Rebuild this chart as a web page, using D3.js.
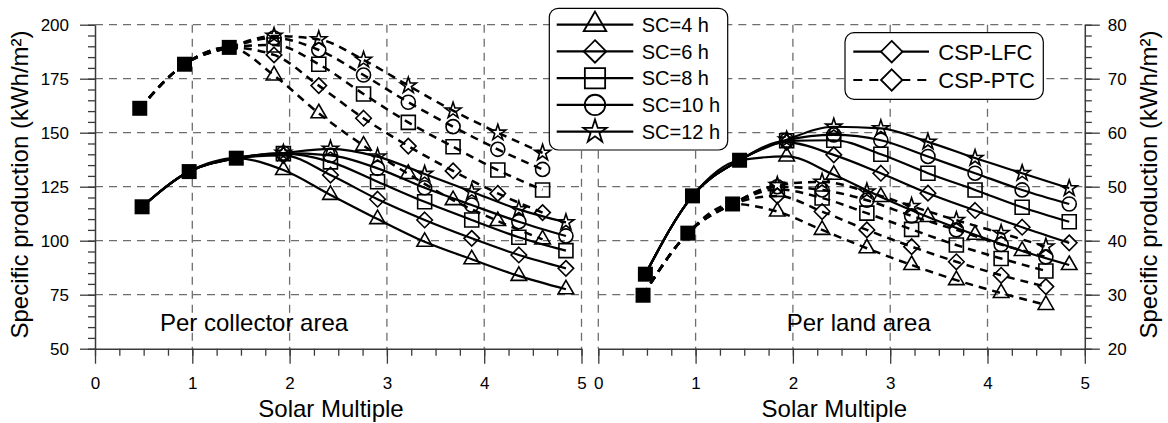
<!DOCTYPE html>
<html><head><meta charset="utf-8">
<script src="https://cdn.jsdelivr.net/npm/d3@7"></script>
<style>
body{margin:0;background:#fff;}
text{font-family:"Liberation Sans",Arial,Helvetica,sans-serif;fill:#000;}
</style>
</head><body>
<svg id="c" width="1168" height="423"></svg>
<script>
// ---------- data ----------
const smLfc = [0.484, 0.968, 1.452, 1.936, 2.42, 2.904, 3.388, 3.872, 4.356, 4.84];
const smPtc = [0.46, 0.92, 1.38, 1.84, 2.30, 2.76, 3.22, 3.68, 4.14, 4.60];
const scLabels = ["SC=4 h", "SC=6 h", "SC=8 h", "SC=10 h", "SC=12 h"];
const techLabels = ["CSP-LFC", "CSP-PTC"];
const sharedPoints = 3; // first points common to every SC
const xTicks = [0, 1, 2, 3, 4, 5];
const collTicks = [50, 75, 100, 125, 150, 175, 200];
const landTicks = [20, 30, 40, 50, 60, 70, 80];

// per collector area (kWh/m2), one row per SC
const collLfc = [
  [115.7, 132, 138.2, 132.7, 121.2, 110.0, 99.5, 91.4, 83.7, 77.5],
  [115.7, 132, 138.2, 139.5, 130.4, 119.2, 109.6, 101.1, 93.4, 87.2],
  [115.7, 132, 138.2, 140.3, 136.5, 127.3, 118.0, 109.6, 101.6, 95.4],
  [115.7, 132, 138.2, 140.5, 139.5, 133.5, 124.5, 116.5, 108.8, 102.2],
  [115.7, 132, 138.2, 140.6, 142.5, 138.9, 130.9, 122.7, 114.5, 108.5]
];
const collPtc = [
  [161.3, 181.7, 189.5, 176.5, 159.0, 144.0, 130.9, 118.8, 109.1, 100.6],
  [161.3, 181.7, 189.5, 186.0, 171.8, 156.7, 143.8, 132.3, 121.9, 113.0],
  [161.3, 181.7, 189.5, 190.6, 181.7, 167.9, 154.8, 143.5, 132.7, 123.5],
  [161.3, 181.7, 189.5, 193.8, 188.3, 176.7, 164.1, 152.8, 142.3, 133.0],
  [161.3, 181.7, 189.5, 194.8, 193.2, 183.7, 171.8, 160.2, 150.0, 140.7]
];
// per land area (kWh/m2)
const landLfc = [
  [33.8, 48.3, 54.9, 55.6, 52.2, 48.1, 44.4, 41.1, 38.1, 35.5],
  [33.8, 48.3, 54.9, 58.2, 55.9, 52.5, 48.8, 45.6, 42.5, 39.6],
  [33.8, 48.3, 54.9, 58.5, 58.6, 56.0, 52.5, 49.4, 46.2, 43.5],
  [33.8, 48.3, 54.9, 58.6, 59.6, 58.6, 55.6, 52.5, 49.4, 46.8],
  [33.8, 48.3, 54.9, 58.7, 61.1, 60.8, 58.3, 55.3, 52.5, 49.7]
];
const landPtc = [
  [29.9, 41.4, 46.8, 45.4, 42.0, 38.6, 35.5, 32.7, 30.3, 28.1],
  [29.9, 41.4, 46.8, 48.3, 45.4, 42.0, 38.9, 36.1, 33.6, 31.5],
  [29.9, 41.4, 46.8, 49.5, 47.9, 45.1, 42.1, 39.2, 36.7, 34.4],
  [29.9, 41.4, 46.8, 50.0, 49.4, 47.5, 44.6, 42.0, 39.3, 37.0],
  [29.9, 41.4, 46.8, 50.3, 50.9, 49.1, 46.4, 43.8, 41.4, 38.9]
];

// ---------- drawing ----------
const svg = d3.select("#c");
svg.append("rect").attr("width", 1168).attr("height", 423).attr("fill", "#fff");

const yTop = 24.7, yBot = 348.7;
const axisCol = "#3a3a3a", gridCol = "#6e6e6e";

const diamond = {draw(ctx, size){ const r = Math.sqrt(size/2); ctx.moveTo(0,-r); ctx.lineTo(r,0); ctx.lineTo(0,r); ctx.lineTo(-r,0); ctx.closePath(); }};
const symTypes = [d3.symbolTriangle, diamond, d3.symbolSquare, d3.symbolCircle, d3.symbolStar];
const symSizes = [105, 120, 196, 155, 80];

const panels = [
  {x0: 95, x1: 581.5, domain: [50, 200], ticks: collTicks, minor: d3.range(50, 201, 5), side: "left",
   lfc: collLfc, ptc: collPtc, label: "Per collector area", labelX: 160, gridX: [1,2,3,4,5]},
  {x0: 598.3, x1: 1084.8, domain: [20, 80], ticks: landTicks, minor: d3.range(20, 81, 2), side: "right",
   lfc: landLfc, ptc: landPtc, label: "Per land area", labelX: 786.7, gridX: [0,1,2,3,4]}
];

panels.forEach(p => {
  const x = d3.scaleLinear().domain([0, 5]).range([p.x0, p.x1]);
  const y = d3.scaleLinear().domain(p.domain).range([yBot, yTop]);
  const g = svg.append("g");

  // grid
  g.selectAll(".gh").data(p.ticks.slice(1)).join("line")
    .attr("x1", p.x0).attr("x2", p.x1).attr("y1", d => y(d)).attr("y2", d => y(d))
    .attr("stroke", gridCol).attr("stroke-width", 1.3).attr("stroke-dasharray", "8,6");
  g.selectAll(".gv").data(p.gridX).join("line")
    .attr("x1", d => x(d)).attr("x2", d => x(d)).attr("y1", yTop).attr("y2", yBot)
    .attr("stroke", gridCol).attr("stroke-width", 1.3).attr("stroke-dasharray", "8,6");

  // x axis
  const xa = g.append("g").attr("transform", `translate(0,${yBot})`)
    .call(d3.axisBottom(x).tickValues(xTicks).tickSize(15).tickSizeOuter(0).tickPadding(13).tickFormat(d3.format("d")));
  const xm = g.append("g").attr("transform", `translate(0,${yBot})`)
    .call(d3.axisBottom(x).tickValues(d3.range(0, 5.01, 0.25)).tickSize(7).tickSizeOuter(0).tickFormat(""));
  xm.select(".domain").remove();

  // y axis
  const yAxisX = p.side === "left" ? p.x0 : p.x1;
  const mk = p.side === "left" ? d3.axisLeft : d3.axisRight;
  const ya = g.append("g").attr("transform", `translate(${yAxisX},0)`)
    .call(mk(y).tickValues(p.ticks).tickSize(15).tickSizeOuter(0).tickPadding(p.side === "left" ? 11 : 8).tickFormat(d3.format("d")));
  const ym = g.append("g").attr("transform", `translate(${yAxisX},0)`)
    .call(mk(y).tickValues(p.minor).tickSize(7).tickSizeOuter(0).tickFormat(""));
  ym.select(".domain").remove();

  [xa, xm, ya, ym].forEach(a => {
    a.selectAll("line").attr("stroke", axisCol).attr("stroke-width", 1.3);
    a.selectAll("path").attr("stroke", axisCol).attr("stroke-width", 1.5);
    a.selectAll("text").attr("font-size", 17).attr("font-family", '"Liberation Sans",Arial,sans-serif').attr("fill", "#000");
  });

  // series
  const line = d3.line().x(d => x(d[0])).y(d => y(d[1])).curve(d3.curveMonotoneX);
  [[p.ptc, smPtc, true], [p.lfc, smLfc, false]].forEach(([rows, sm, dashed]) => {
    rows.forEach((vals, i) => {
      const pts = sm.map((s, j) => [s, vals[j]]);
      g.append("path").attr("d", line(pts)).attr("fill", "none")
        .attr("stroke", "#000").attr("stroke-width", dashed ? 2.5 : 2.2)
        .attr("stroke-dasharray", dashed ? "8,6" : null);
    });
    rows.forEach((vals, i) => {
      const pts = sm.map((s, j) => [s, vals[j]]).slice(sharedPoints);
      g.selectAll(null).data(pts).join("path")
        .attr("transform", d => `translate(${x(d[0])},${y(d[1])})`)
        .attr("d", d3.symbol(symTypes[i], symSizes[i])())
        .attr("fill", "none").attr("stroke", "#000").attr("stroke-width", 1.6);
    });
    // shared points: every SC marker overlapped -> solid black block
    const shared = sm.slice(0, sharedPoints).map((s, j) => [s, rows[0][j]]);
    g.selectAll(null).data(shared).join("rect")
      .attr("x", d => x(d[0]) - 7.5).attr("y", d => y(d[1]) - 7.5)
      .attr("width", 15).attr("height", 15).attr("fill", "#000");
  });

  g.append("text").attr("x", p.labelX).attr("y", 331).attr("font-size", 24).text(p.label);
  g.append("text").attr("x", p.x0 + 236).attr("y", 417).attr("font-size", 24)
    .attr("text-anchor", "middle").text("Solar Multiple");
});

// y titles
svg.append("text").attr("transform", "translate(27.5,184.5) rotate(-90)")
  .attr("text-anchor", "middle").attr("font-size", 24).text("Specific production (kWh/m²)");
svg.append("text").attr("transform", "translate(1157,184.5) rotate(-90)")
  .attr("text-anchor", "middle").attr("font-size", 24).text("Specific production (kWh/m²)");

// legend 1 (storage capacity)
const l1 = svg.append("g");
l1.append("rect").attr("x", 549.3).attr("y", 8.3).attr("width", 178.4).attr("height", 141.7)
  .attr("rx", 9).attr("fill", "#fff").attr("stroke", "#000").attr("stroke-width", 1.2);
scLabels.forEach((lab, i) => {
  const yy = 24.7 + i * 26.75;
  l1.append("line").attr("x1", 556.7).attr("x2", 633.3).attr("y1", yy).attr("y2", yy)
    .attr("stroke", "#000").attr("stroke-width", 2.2);
  l1.append("path").attr("transform", `translate(595,${yy})`)
    .attr("d", d3.symbol(symTypes[i], symSizes[i] * 2.1)())
    .attr("fill", "none").attr("stroke", "#000").attr("stroke-width", 1.8);
  l1.append("text").attr("x", 641.7).attr("y", yy).attr("dy", "0.36em").attr("font-size", 20).text(lab);
});

// legend 2 (technology)
const l2 = svg.append("g");
l2.append("rect").attr("x", 845).attr("y", 32.7).attr("width", 198.3).attr("height", 66.6)
  .attr("rx", 9).attr("fill", "#fff").attr("stroke", "#000").attr("stroke-width", 1.2);
techLabels.forEach((lab, i) => {
  const yy = 51.7 + i * 28.3;
  l2.append("line").attr("x1", 853.3).attr("x2", 929).attr("y1", yy).attr("y2", yy)
    .attr("stroke", "#000").attr("stroke-width", 2.2).attr("stroke-dasharray", i === 1 ? "9,7" : null);
  l2.append("path").attr("transform", `translate(891.7,${yy})`)
    .attr("d", d3.symbol(diamond, 230)())
    .attr("fill", "#fff").attr("stroke", "#000").attr("stroke-width", 1.8);
  l2.append("text").attr("x", 938.3).attr("y", yy).attr("dy", "0.36em").attr("font-size", 22).text(lab);
});
</script>
</body></html>
